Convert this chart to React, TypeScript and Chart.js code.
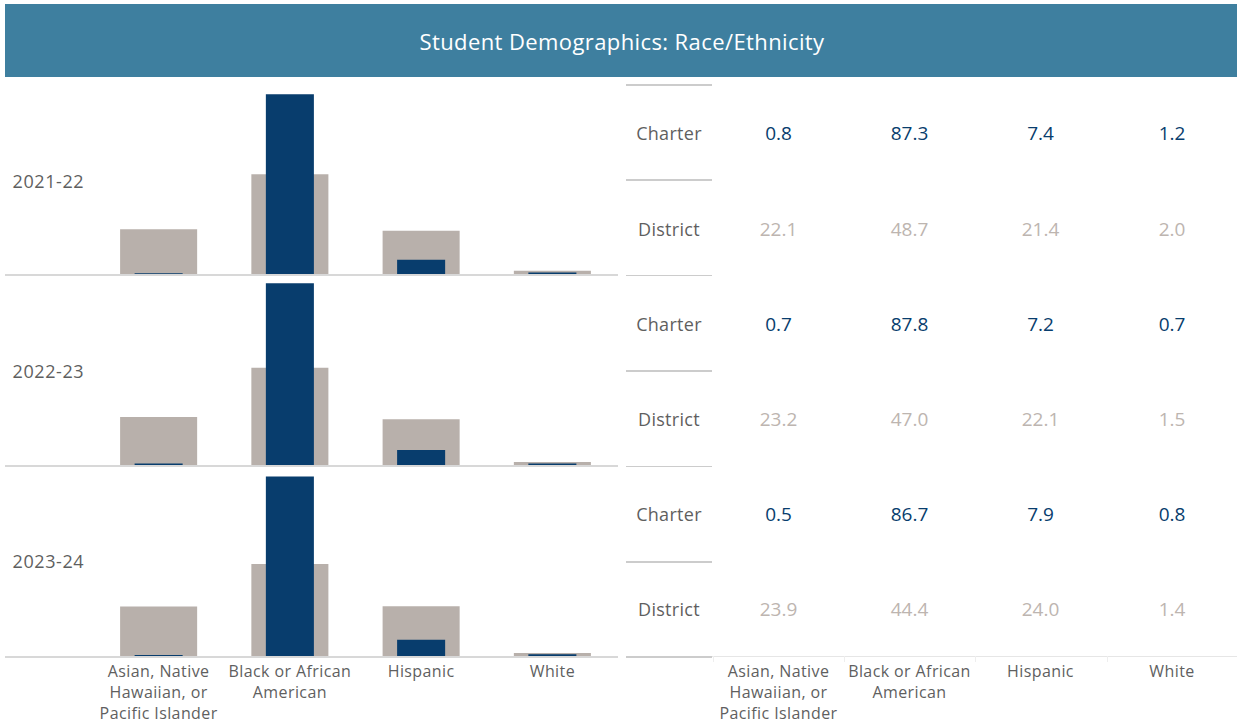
import React, { useEffect, useRef } from "react";
import { Chart, registerables } from "chart.js";

Chart.register(...registerables);

const TITLE = "Student Demographics: Race/Ethnicity";
const CATEGORIES = ["Asian, Native Hawaiian, or Pacific Islander", "Black or African American", "Hispanic", "White"];
const CATEGORY_LINES = [["Asian, Native", "Hawaiian, or", "Pacific Islander"], ["Black or African", "American"], ["Hispanic"], ["White"]];
const YEARS = ["2021-22", "2022-23", "2023-24"];
const ROW_LABELS = ["Charter", "District"];

const CHARTER_2021_22 = [0.8, 87.3, 7.4, 1.2];
const DISTRICT_2021_22 = [22.1, 48.7, 21.4, 2.0];
const CHARTER_2022_23 = [0.7, 87.8, 7.2, 0.7];
const DISTRICT_2022_23 = [23.2, 47.0, 22.1, 1.5];
const CHARTER_2023_24 = [0.5, 86.7, 7.9, 0.8];
const DISTRICT_2023_24 = [23.9, 44.4, 24.0, 1.4];

const CHARTER = [CHARTER_2021_22, CHARTER_2022_23, CHARTER_2023_24];
const DISTRICT = [DISTRICT_2021_22, DISTRICT_2022_23, DISTRICT_2023_24];

const FONT = "'Open Sans', Lato, sans-serif";
const NAVY = "#083d6d";
const GREY_BAR = "#b8b0ab";
const GREY_TEXT = "#bdb5b0";
const LABEL = "#5f5f5f";

const PANEL_BASE = [274.5, 465.2, 656];
const PANEL_H = 190;
const CHART_LEFT = 93;
const CHART_W = 525;

function Panel({ idx }: { idx: number }) {
  const ref = useRef<HTMLCanvasElement | null>(null);
  useEffect(() => {
    if (!ref.current) return;
    const chart = new Chart(ref.current, {
      type: "bar",
      data: {
        labels: CATEGORIES,
        datasets: [
          {
            label: "District",
            data: DISTRICT[idx],
            backgroundColor: GREY_BAR,
            borderWidth: 0,
            barPercentage: 0.587,
            categoryPercentage: 1,
            grouped: false,
            order: 2,
          } as any,
          {
            label: "Charter",
            data: CHARTER[idx],
            backgroundColor: NAVY,
            borderWidth: 0,
            barPercentage: 0.366,
            categoryPercentage: 1,
            grouped: false,
            order: 1,
          } as any,
        ],
      },
      options: {
        responsive: false,
        animation: false,
        devicePixelRatio: 1,
        layout: { padding: 0 },
        plugins: { legend: { display: false }, tooltip: { enabled: false } },
        scales: {
          x: { display: false },
          y: { display: false, min: 0, max: 91.8 },
        },
      },
    });
    return () => chart.destroy();
  }, [idx]);
  const top = PANEL_BASE[idx] - PANEL_H;
  return (
    <canvas
      ref={ref}
      width={CHART_W}
      height={PANEL_H}
      style={{ position: "absolute", left: CHART_LEFT, top, width: CHART_W, height: PANEL_H }}
    />
  );
}

const abs = (extra: React.CSSProperties): React.CSSProperties => ({
  position: "absolute",
  fontFamily: FONT,
  whiteSpace: "nowrap",
  ...extra,
});

export default function App() {
  const colCenters = [778.5, 909.5, 1040.5, 1172];
  const catCenters = [0, 1, 2, 3].map((i) => CHART_LEFT + (CHART_W / 4) * (i + 0.5));
  const sepY = [0, 1, 2, 3, 4, 5, 6].map((k) => 84 + k * 95.4);
  return (
    <div style={{ position: "absolute", left: 0, top: 0, width: 1237, height: 725, background: "#fff", overflow: "hidden" }}>
      <div style={{ position: "absolute", left: 5, top: 4, width: 1232, height: 73, background: "#3e7f9f" }} />
      <div style={abs({ left: 622, top: 41, transform: "translate(-50%,-50%)", color: "#fff", fontSize: 22, letterSpacing: 0.4, lineHeight: "22px" })}>
        {TITLE}
      </div>

      {[0, 1, 2].map((i) => (
        <React.Fragment key={i}>
          <Panel idx={i} />
          <div style={{ position: "absolute", left: 5, top: PANEL_BASE[i] - 0.5, width: 613, height: 2, background: "#d8d8d8" }} />
          <div style={abs({ left: 12.5, top: 180.5 + i * 190.3, transform: "translateY(-50%)", color: LABEL, fontSize: 18, letterSpacing: 0.6, lineHeight: "19px" })}>
            {YEARS[i]}
          </div>
        </React.Fragment>
      ))}

      {CATEGORY_LINES.map((lines, i) => (
        <div key={"lc" + i} style={abs({ left: catCenters[i], top: 660.5, transform: "translateX(-50%)", color: LABEL, fontSize: 16, letterSpacing: 0.4, lineHeight: "21px", textAlign: "center" })}>
          {lines.map((l, j) => (
            <div key={j}>{l}</div>
          ))}
        </div>
      ))}

      {sepY.map((y, k) => (
        <div key={"s" + k} style={{ position: "absolute", left: 626, top: y, width: 86, height: 1.5, background: "#cccccc" }} />
      ))}
      <div style={{ position: "absolute", left: 712, top: sepY[6], width: 525, height: 1, background: "#e6e6e6" }} />
      {[713, 844, 975, 1107].map((x, k) => (
        <div key={"t" + k} style={{ position: "absolute", left: x, top: sepY[6], width: 1, height: 6, background: "#eeeeee" }} />
      ))}

      {[0, 1, 2].map((g) => (
        <React.Fragment key={"g" + g}>
          {ROW_LABELS.map((lab, r) => {
            const cy = 133.3 + g * 190.4 + r * 95.3;
            const vals = r === 0 ? CHARTER[g] : DISTRICT[g];
            return (
              <React.Fragment key={lab}>
                <div style={abs({ left: 669, top: cy, transform: "translate(-50%,-50%)", color: LABEL, fontSize: 18, letterSpacing: 0.3, lineHeight: "18px" })}>
                  {lab}
                </div>
                {vals.map((v, c) => (
                  <div key={c} style={abs({ left: colCenters[c], top: cy, transform: "translate(-50%,-50%)", color: r === 0 ? NAVY : GREY_TEXT, fontSize: 19, lineHeight: "19px" })}>
                    {v.toFixed(1)}
                  </div>
                ))}
              </React.Fragment>
            );
          })}
        </React.Fragment>
      ))}

      {CATEGORY_LINES.map((lines, i) => (
        <div key={"rc" + i} style={abs({ left: colCenters[i], top: 660.5, transform: "translateX(-50%)", color: LABEL, fontSize: 16, letterSpacing: 0.4, lineHeight: "21px", textAlign: "center" })}>
          {lines.map((l, j) => (
            <div key={j}>{l}</div>
          ))}
        </div>
      ))}
    </div>
  );
}
